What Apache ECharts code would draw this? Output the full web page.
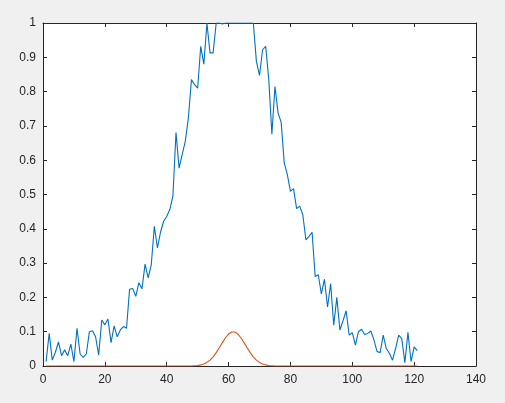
<!DOCTYPE html>
<html>
<head>
<meta charset="utf-8">
<script src="https://cdn.jsdelivr.net/npm/echarts@6/dist/echarts.min.js"></script>
<style>
html,body{margin:0;padding:0;background:#f0f0f0;}
#c{width:505px;height:403px;}
</style>
</head>
<body>
<div id="c"></div>
<script>
// measured signal (x = 1..121)
var blueValues = [
0.013,0.095,0.017,0.04,0.07,0.03,0.047,0.03,0.064,0.013,
0.11,0.035,0.025,0.035,0.1,0.103,0.085,0.032,0.134,0.12,
0.137,0.068,0.117,0.085,0.105,0.115,0.11,0.224,0.226,0.203,
0.243,0.225,0.297,0.257,0.295,0.407,0.344,0.39,0.422,0.436,
0.456,0.495,0.681,0.577,0.616,0.655,0.723,0.835,0.82,0.81,
0.932,0.88,1.0,0.913,0.913,1.0,1.0,0.997,1.0,1.0,
1.0,1.0,1.0,1.0,1.0,1.0,1.0,1.0,0.888,0.847,
0.922,0.932,0.835,0.676,0.815,0.738,0.711,0.592,0.558,0.509,
0.517,0.459,0.466,0.441,0.368,0.378,0.39,0.261,0.266,0.21,
0.253,0.172,0.24,0.119,0.2,0.105,0.132,0.161,0.09,0.097,
0.061,0.1,0.107,0.092,0.095,0.102,0.076,0.042,0.039,0.09,
0.051,0.037,0.017,0.051,0.09,0.08,0.01,0.098,0.013,0.056,
0.045
];
// fitted peak (x = 1..121)
var redValues = [
0,0,0,0,0,0,0,0,0,0,
0,0,0,0,0,0,0,0,0,0,
0,0,0,0,0,0,0,0,0,0,
0,0,0,0,0,0,0,0,0,0,
0,0,0,0,0,0,0,0,0.0008,0.0016,
0.0032,0.006,0.0105,0.0172,0.0267,0.0389,0.0531,0.0682,0.0823,0.0932,
0.0992,0.0992,0.0932,0.0823,0.0682,0.0531,0.0389,0.0267,0.0172,0.0105,
0.006,0.0032,0.0016,0.0008,0,0,0,0,0,0,
0,0,0,0,0,0,0,0,0,0,
0,0,0,0,0,0,0,0,0,0,
0,0,0,0,0,0,0,0,0,0,
0,0,0,0,0,0,0,0,0,0,
0
];
var xTicks = [0,20,40,60,80,100,120,140];
var yTicks = [0,0.1,0.2,0.3,0.4,0.5,0.6,0.7,0.8,0.9,1];

function pairs(vals){ return vals.map(function(v,i){ return [i+1, v]; }); }

var axisCol = '#262626';
var lbl = {color: axisCol, fontFamily: 'Liberation Sans, Arial, sans-serif', fontSize: 12};
function xAx(pos, show){
  return {type:'value', position:pos, min:0, max:140, interval:20,
    axisLine:{show:true, onZero:false, lineStyle:{color:axisCol, width:1}},
    axisTick:{show:true, inside:true, length:4, lineStyle:{color:axisCol}},
    axisLabel: show ? Object.assign({margin:8, formatter:function(v){return String(v);}}, lbl) : {show:false},
    splitLine:{show:false}};
}
function yAx(pos, show){
  return {type:'value', position:pos, min:0, max:1, interval:0.1,
    axisLine:{show:true, onZero:false, lineStyle:{color:axisCol, width:1}},
    axisTick:{show:true, inside:true, length:4, lineStyle:{color:axisCol}},
    axisLabel: show ? Object.assign({margin:7, formatter:function(v){ return String(Math.round(v*10)/10); }}, lbl) : {show:false},
    splitLine:{show:false}};
}

var chart = echarts.init(document.getElementById('c'));
chart.setOption({
  backgroundColor:'#f0f0f0',
  animation:false,
  grid:{left:43, right:29, top:23, bottom:37, show:true, backgroundColor:'#ffffff', borderWidth:0},
  xAxis:[xAx('bottom', true), xAx('top', false)],
  yAxis:[yAx('left', true), yAx('right', false)],
  series:[
    {type:'line', data:pairs(blueValues), showSymbol:false, symbol:'none',
     lineStyle:{color:'#0072BD', width:1.1}, itemStyle:{color:'#0072BD'}},
    {type:'line', data:pairs(redValues), showSymbol:false, symbol:'none',
     lineStyle:{color:'#D95319', width:1.1}, itemStyle:{color:'#D95319'}}
  ]
});
</script>
</body>
</html>
